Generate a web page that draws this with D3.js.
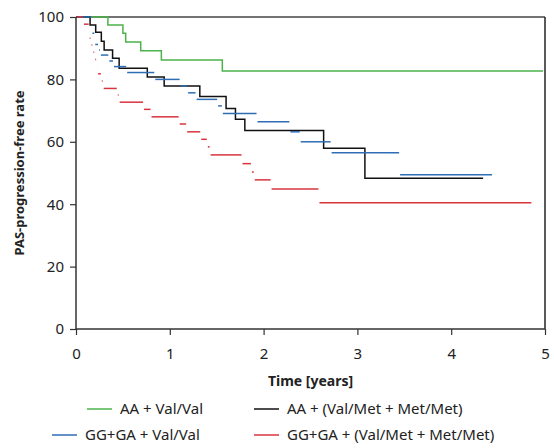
<!DOCTYPE html>
<html>
<head>
<meta charset="utf-8">
<script src="https://cdn.jsdelivr.net/npm/d3@7"></script>
<style>
  body { margin: 0; background: #fff; }
  svg text { font-family: "Noto Sans", "Open Sans", sans-serif; fill: #222; }
</style>
</head>
<body>
<svg id="chart"></svg>
<script>
// Kaplan-Meier steps: time where each level starts, level value, last follow-up time
const greenTimes = [0, 0.34, 0.50, 0.53, 0.69, 0.91, 1.56];
const greenValues = [100, 97.4, 94.8, 92.0, 89.2, 86.2, 82.7];
const greenEnd = 4.98;

const blackTimes = [0, 0.15, 0.21, 0.27, 0.30, 0.39, 0.46, 0.76, 0.94, 1.32, 1.60, 1.70, 1.80, 2.64, 3.08];
const blackValues = [100, 97.4, 95.1, 92.2, 89.4, 86.8, 83.6, 80.8, 77.9, 74.5, 70.7, 67.2, 63.6, 57.9, 48.3];
const blackEnd = 4.34;

const blueTimes = [0, 0.17, 0.20, 0.24, 0.26, 0.35, 0.40, 0.54, 0.84, 1.11, 1.19, 1.28, 1.51, 1.56, 1.93, 2.28, 2.39, 2.72, 3.45];
const blueValues = [100, 94.8, 91.2, 89.4, 87.8, 85.9, 84.1, 82.2, 80.0, 77.9, 75.7, 73.6, 71.5, 69.1, 66.4, 63.2, 60.0, 56.5, 49.4];
const blueEnd = 4.44;

const redTimes = [0, 0.08, 0.14, 0.16, 0.18, 0.20, 0.22, 0.23, 0.27, 0.29, 0.44, 0.46, 0.72, 0.80, 1.10, 1.18, 1.33, 1.40, 1.43, 1.77, 1.87, 1.90, 2.08, 2.59];
const redValues = [100, 97.7, 93.2, 91.0, 88.7, 86.4, 84.1, 81.8, 79.5, 77.1, 75.0, 72.7, 70.4, 68.0, 65.7, 63.2, 60.8, 58.4, 55.8, 53.0, 50.3, 47.8, 44.9, 40.5];
const redEnd = 4.86;

const xTicks = [0, 1, 2, 3, 4, 5];
const yTicks = [0, 20, 40, 60, 80, 100];

const series = [
  { name: "AA + Val/Val", times: greenTimes, values: greenValues, end: greenEnd, color: "#4cb34c", steps: true },
  { name: "AA + (Val/Met + Met/Met)", times: blackTimes, values: blackValues, end: blackEnd, color: "#111111", steps: true },
  { name: "GG+GA + Val/Val", times: blueTimes, values: blueValues, end: blueEnd, color: "#2f6db5", steps: false },
  { name: "GG+GA + (Val/Met + Met/Met)", times: redTimes, values: redValues, end: redEnd, color: "#d8343e", steps: false },
];

const width = 554;
const height = 448;
const margin = { top: 17, right: 9, bottom: 119, left: 76 };

const svg = d3.select("#chart").attr("width", width).attr("height", height);

const x = d3.scaleLinear().domain([0, 5]).range([margin.left, width - margin.right]);
const y = d3.scaleLinear().domain([0, 100]).range([height - margin.bottom, margin.top]);

// frame: top and right lines
svg.append("line")
  .attr("x1", x(0)).attr("x2", x(5))
  .attr("y1", y(100)).attr("y2", y(100))
  .attr("stroke", "#444").attr("stroke-width", 1.5);
svg.append("line")
  .attr("x1", x(5)).attr("x2", x(5))
  .attr("y1", y(100)).attr("y2", y(0))
  .attr("stroke", "#222").attr("stroke-width", 1.5);

// curves
series.forEach((s) => {
  const segs = s.times.map((t, i) => ({
    x0: t,
    x1: i < s.times.length - 1 ? s.times[i + 1] : s.end,
    v: s.values[i],
  }));
  if (s.steps) {
    const pts = s.times.map((t, i) => [t, s.values[i]]);
    pts.push([s.end, s.values[s.values.length - 1]]);
    svg.append("path")
      .datum(pts)
      .attr("fill", "none")
      .attr("stroke", s.color)
      .attr("stroke-width", 1.5)
      .attr("d", d3.line().x((d) => x(d[0])).y((d) => y(d[1])).curve(d3.curveStepAfter));
  } else {
    svg.append("g")
      .selectAll("line")
      .data(segs)
      .enter()
      .append("line")
      .attr("x1", (d) => x(d.x0) + 0.5)
      .attr("x2", (d) => x(d.x1) - 0.5)
      .attr("y1", (d) => y(d.v))
      .attr("y2", (d) => y(d.v))
      .attr("stroke", s.color)
      .attr("stroke-width", 1.5);
  }
});

// axes
const xAxis = svg.append("g")
  .attr("transform", `translate(0,${y(0)})`)
  .call(d3.axisBottom(x).tickValues(xTicks).tickFormat(d3.format("d")).tickSize(6).tickPadding(13));
const yAxis = svg.append("g")
  .attr("transform", `translate(${x(0)},0)`)
  .call(d3.axisLeft(y).tickValues(yTicks).tickSize(6).tickPadding(6));
[xAxis, yAxis].forEach((g) => {
  g.select(".domain").attr("stroke", "#333").attr("stroke-width", 1.5);
  g.selectAll(".tick line").attr("stroke", "#333").attr("stroke-width", 1.2);
  g.selectAll(".tick text").style("font-size", "15px").attr("fill", "#222");
});
xAxis.select(".domain").attr("d", `M${x(0)},0H${x(5)}`);
yAxis.select(".domain").attr("d", `M0,${y(0)}V${y(100)}`);

// axis titles
svg.append("text")
  .attr("x", (x(0) + x(5)) / 2)
  .attr("y", 386)
  .attr("text-anchor", "middle")
  .style("font-size", "14px")
  .style("font-weight", "bold")
  .text("Time [years]");
svg.append("text")
  .attr("transform", `translate(24,${(y(0) + y(100)) / 2}) rotate(-90)`)
  .attr("text-anchor", "middle")
  .style("font-size", "13px")
  .style("font-weight", "bold")
  .text("PAS-progression-free rate");

// legend
const legendPos = [
  { lx: 87, ty: 409 },
  { lx: 254, ty: 409 },
  { lx: 52, ty: 435 },
  { lx: 254, ty: 435 },
];
const legend = svg.append("g")
  .selectAll("g")
  .data(series)
  .enter()
  .append("g")
  .attr("transform", (d, i) => `translate(${legendPos[i].lx},${legendPos[i].ty})`);
legend.append("line")
  .attr("x1", 0).attr("x2", 25)
  .attr("stroke", (d) => d.color)
  .attr("stroke-width", 1.5);
legend.append("text")
  .attr("x", 33)
  .attr("dy", "0.35em")
  .style("font-size", "15px")
  .text((d) => d.name);
</script>
</body>
</html>
